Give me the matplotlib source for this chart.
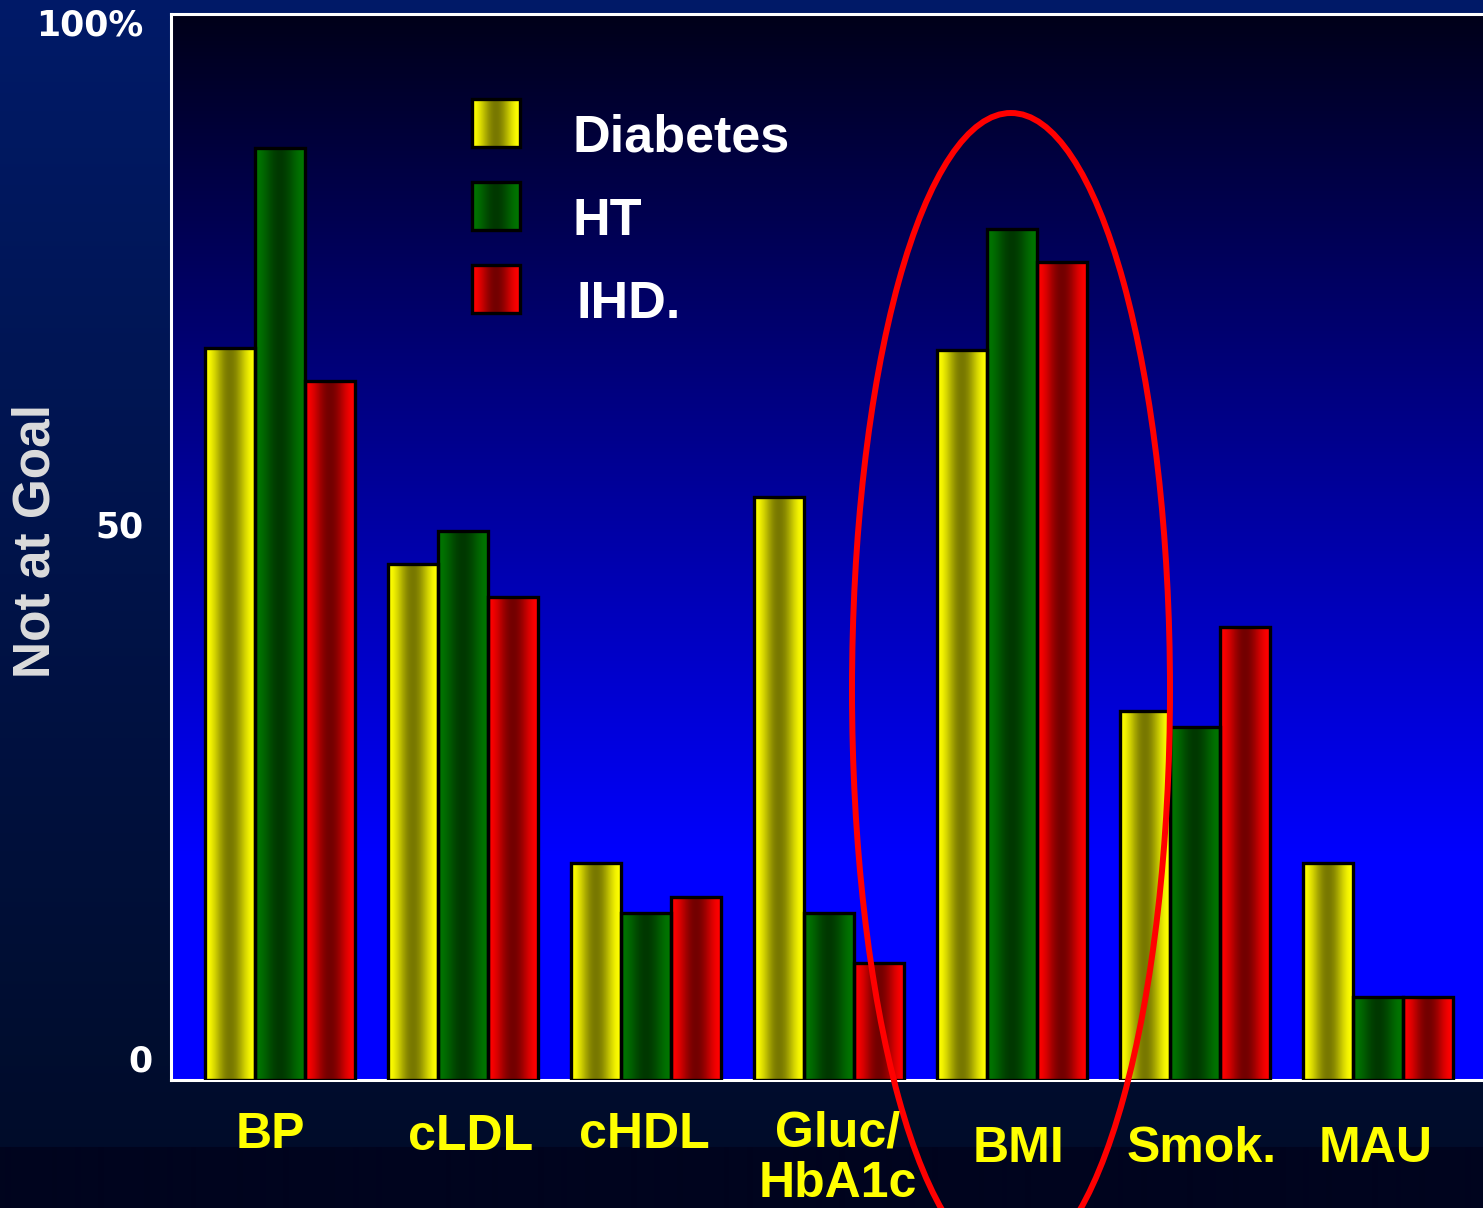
import numpy as np
import matplotlib
matplotlib.use("Agg")
import matplotlib.pyplot as plt
from matplotlib.patches import Ellipse, Rectangle

# ---------------- data ----------------
categories = ["BP", "cLDL", "cHDL", "Gluc/\nHbA1c", "BMI", "Smok.", "MAU"]
series_names = ["Diabetes", "HT", "IHD."]
diabetes = [68.7, 48.4, 20.4, 54.7, 68.5, 34.6, 20.4]
ht = [87.4, 51.5, 15.7, 15.7, 79.8, 33.1, 7.8]
ihd = [65.6, 45.3, 17.2, 11.0, 76.7, 42.5, 7.8]
ytick_labels = ["0", "50", "100%"]
ylabel = "Not at Goal"

# ---------------- styles ----------------
edge_cols = [(1.0, 1.0, 0.0), (0.0, 0.46, 0.0), (1.0, 0.0, 0.0)]
dark_cols = [(0.47, 0.47, 0.0), (0.0, 0.22, 0.0), (0.45, 0.0, 0.0)]
W = 0.273
FW, FH = 1483, 1208

fig = plt.figure(figsize=(FW / 100, FH / 100), dpi=100)

# figure background gradient
bgax = fig.add_axes([0, 0, 1, 1], zorder=0)
rows = np.arange(FH)
top = np.array([0, 26, 104]) / 255
low = np.array([0, 12, 42]) / 255
bot = np.array([0, 4, 30]) / 255
t = np.clip(rows / 1147, 0, 1)[:, None]
bg = top * (1 - t) + low * t
bg[rows >= 1147] = bot
bgax.imshow(bg[:, None, :], extent=[0, 1, 0, 1], aspect='auto', interpolation='bilinear')
bgax.set_xlim(0, 1); bgax.set_ylim(0, 1)
bgax.axis('off')

# main axes
ax = fig.add_axes([171 / FW, 1 - 1080 / FH, 1 - 171 / FW, (1080 - 14) / FH], zorder=1)
x = np.arange(len(categories))
xlim = (-109 / 183, (FW - 280) / 183)

# plot area gradient (dark top -> blue bottom)
tt = np.linspace(0, 1, 400)
blue = np.clip((25 + 290 * tt) / 255, 0, 1)
pbg = np.zeros((400, 1, 3)); pbg[:, 0, 2] = blue
ax.imshow(pbg, extent=[xlim[0], xlim[1], 0, 100], aspect='auto', zorder=0, interpolation='bilinear')

def grad_img(s, n=64):
    u = np.linspace(0, 1, n)
    f = 0.5 + 0.5 * np.cos(2 * np.pi * u)
    e = np.array(edge_cols[s]); d = np.array(dark_cols[s])
    return (d[None, :] + (e - d)[None, :] * f[:, None])[None, :, :]

offsets = [-W, 0, W]
for s, vals in enumerate([diabetes, ht, ihd]):
    bars = ax.bar(x + offsets[s], vals, width=W, facecolor='none', edgecolor='black',
                  linewidth=2.4, zorder=4)
    img = grad_img(s)
    for b in bars:
        x0, w, h = b.get_x(), b.get_width(), b.get_height()
        ax.imshow(img, extent=[x0, x0 + w, 0, h], aspect='auto', zorder=3,
                  interpolation='bilinear')

ax.set_xlim(*xlim)
ax.set_ylim(0, 100)
ax.set_aspect('auto')
ax.set_xticks([]); ax.set_yticks([])
for side in ['left', 'bottom', 'top']:
    ax.spines[side].set_color('white')
    ax.spines[side].set_linewidth(2.2)
ax.spines['right'].set_visible(False)

# overlay in pixel coordinates for annotations
ov = fig.add_axes([0, 0, 1, 1], zorder=3)
ov.patch.set_alpha(0)

# legend
sw_tops = [99, 182, 265]
txt_base = [152, 235, 318]
for s, name in enumerate(series_names):
    y0 = sw_tops[s]
    ov.imshow(grad_img(s), extent=[472, 520, y0 + 48, y0], aspect='auto', zorder=3,
              interpolation='bilinear')
    ov.add_patch(Rectangle((472, y0), 48, 48, facecolor='none', edgecolor='black',
                           linewidth=2.4, zorder=4))
    ov.text(573 if s < 2 else 577, txt_base[s], name, color='white', fontsize=37.5,
            fontweight='bold', family='Liberation Sans', va='baseline', ha='left')

# red ellipse
ov.add_patch(Ellipse((1011, 690), 318, 1154, facecolor='none', edgecolor='#ff0000',
                     linewidth=4.3, zorder=5))

# category labels
lab_cx = [270, 471, 644, 838, 1018, 1202, 1376]
lab_base = [1148, 1150, 1148, 1146, 1162, 1162, 1162]
for i, lab in enumerate(categories):
    for k, line in enumerate(lab.split("\n")):
        ov.text(lab_cx[i], lab_base[i] + 51 * k, line, color='#ffff00', fontsize=36,
                fontweight='bold', family='Liberation Sans', ha='center', va='baseline',
                zorder=6)

# y tick labels
tick_right = [152, 144, 143]
tick_base = [1071, 537, 36]
for lab, xr, yb in zip(ytick_labels, tick_right, tick_base):
    ov.text(xr, yb, lab, color='white', fontsize=25, fontweight='bold',
            family='DejaVu Sans', ha='right', va='baseline')

# y label
ov.text(36, 541, ylabel, color='#dcdcdc', fontsize=37, fontweight='bold',
        family='Liberation Sans', rotation=90, ha='center', va='center')

ov.set_xlim(0, FW)
ov.set_ylim(FH, 0)
ov.set_aspect('auto')
ov.axis('off')

fig.savefig('out.png', dpi=100)
